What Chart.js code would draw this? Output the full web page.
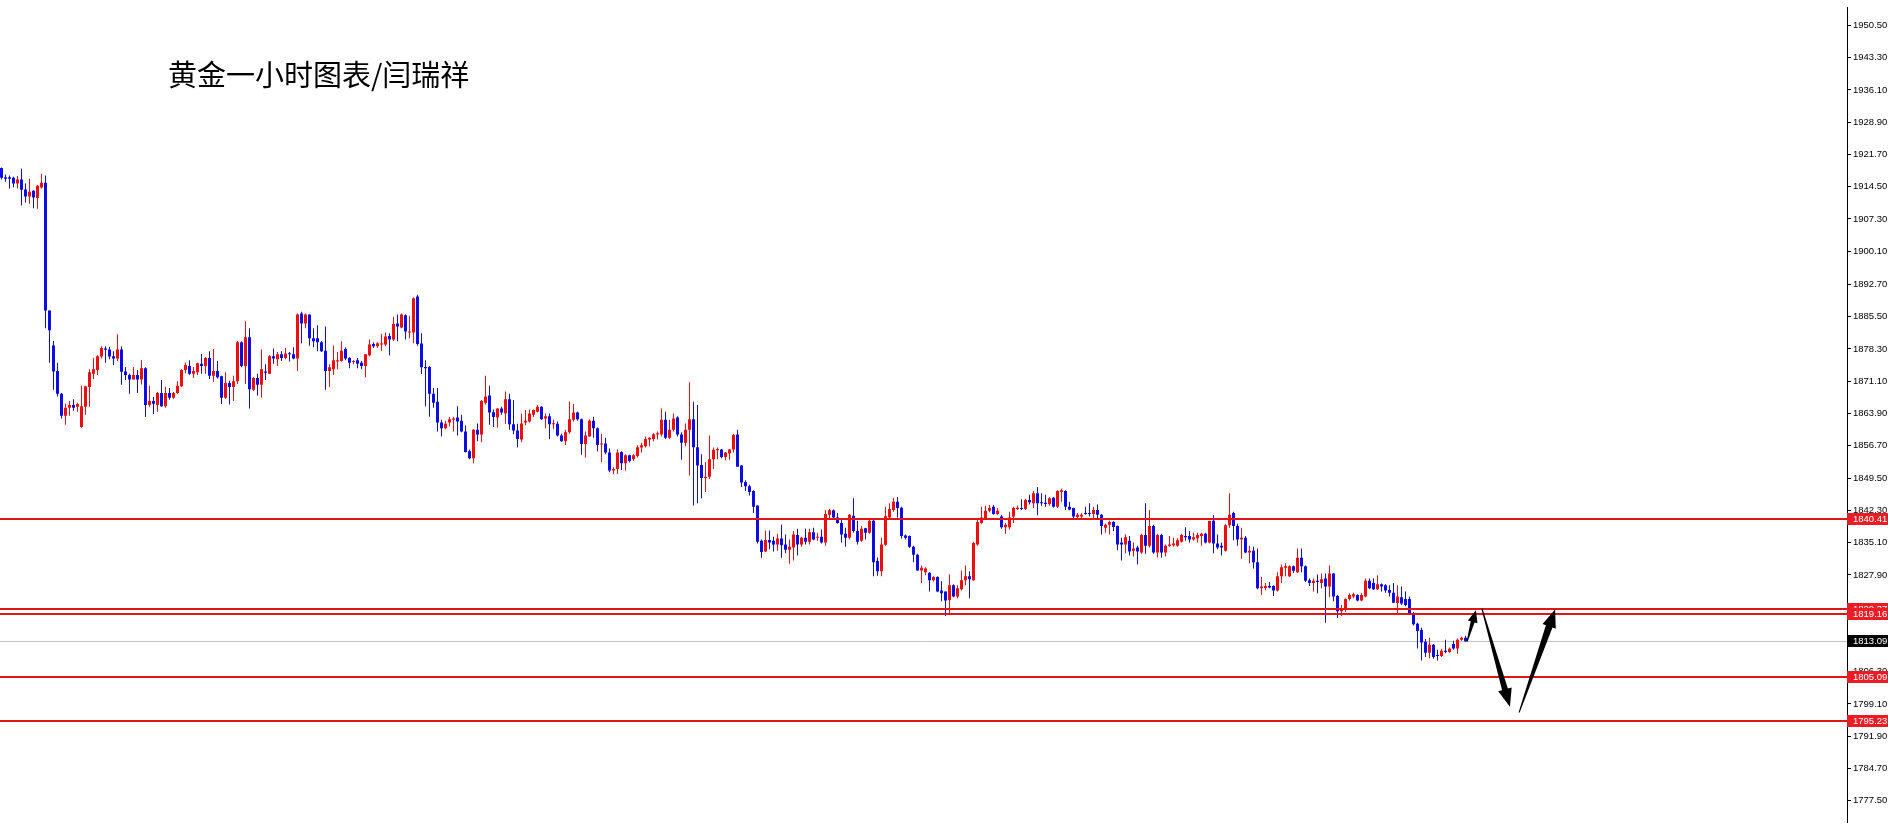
<!DOCTYPE html>
<html>
<head>
<meta charset="utf-8">
<script src="https://cdn.jsdelivr.net/npm/chart.js@4.4.1/dist/chart.umd.min.js"></script>
<style>
  html, body { margin: 0; padding: 0; background: #fff; }
  .wrap { position: relative; width: 1888px; height: 830px; }
  #title {
    position: absolute; left: 168px; top: 59px;
    font: 29px/29px "Noto Sans CJK SC", sans-serif;
    color: #000; white-space: nowrap;
  }
</style>
</head>
<body>
<div class="wrap">
  <canvas id="gold-chart"></canvas>
  <div id="title">黄金一小时图表/闫瑞祥</div>
</div>
<script>
// hourly candles, oldest first
const openVals = [
  1918.7, 1916.6, 1916.6, 1916.5, 1915.2, 1916.1, 1913.9, 1912.3, 1913.6, 1912.0,
  1914.3, 1915.4, 1886.9, 1879.1, 1873.4, 1868.3, 1863.4, 1865.2, 1865.8, 1865.4,
  1860.9, 1865.4, 1869.8, 1872.8, 1873.6, 1876.6, 1878.4, 1878.2, 1876.7, 1876.2,
  1878.2, 1873.3, 1872.5, 1871.5, 1872.5, 1871.5, 1874.0, 1865.8, 1866.7, 1865.8,
  1868.5, 1865.5, 1868.5, 1867.4, 1868.5, 1870.0, 1873.6, 1874.5, 1872.8, 1873.1,
  1875.0, 1874.5, 1876.3, 1872.3, 1873.4, 1872.2, 1867.4, 1870.7, 1869.8, 1871.1,
  1879.8, 1874.5, 1880.9, 1869.2, 1871.8, 1870.3, 1873.3, 1872.8, 1876.7, 1876.0,
  1877.1, 1876.3, 1877.3, 1877.1, 1876.2, 1886.2, 1884.0, 1886.0, 1880.7, 1880.7,
  1879.8, 1877.9, 1873.4, 1873.8, 1875.5, 1875.6, 1878.3, 1876.3, 1875.4, 1875.8,
  1875.2, 1874.5, 1876.9, 1879.4, 1878.9, 1879.3, 1879.3, 1881.2, 1880.4, 1884.0,
  1883.1, 1885.8, 1882.0, 1882.0, 1890.0, 1879.5, 1874.3, 1874.3, 1868.3, 1866.5,
  1861.9, 1860.6, 1861.9, 1862.5, 1863.0, 1862.3, 1859.9, 1855.5, 1853.9, 1860.3,
  1859.2, 1866.3, 1867.9, 1864.2, 1863.0, 1865.0, 1863.9, 1867.1, 1861.5, 1860.1,
  1858.1, 1861.9, 1862.1, 1863.6, 1864.3, 1865.4, 1862.8, 1863.3, 1861.5, 1861.6,
  1859.0, 1857.7, 1859.7, 1862.5, 1864.1, 1862.6, 1857.1, 1858.8, 1862.3, 1860.6,
  1857.0, 1857.2, 1855.2, 1851.2, 1851.5, 1855.3, 1852.8, 1854.6, 1853.7, 1854.4,
  1856.3, 1856.6, 1858.1, 1858.2, 1859.2, 1859.2, 1862.5, 1858.5, 1860.3, 1863.0,
  1859.2, 1857.4, 1860.3, 1862.6, 1856.4, 1852.4, 1849.5, 1849.8, 1853.7, 1855.7,
  1855.9, 1854.2, 1855.0, 1855.9, 1859.2, 1852.3, 1848.6, 1847.7, 1846.6, 1843.4,
  1835.5, 1833.1, 1835.7, 1835.5, 1834.7, 1836.0, 1834.7, 1833.5, 1834.0, 1836.8,
  1834.7, 1836.2, 1835.3, 1837.4, 1836.2, 1836.4, 1835.1, 1841.3, 1842.3, 1840.7,
  1839.5, 1837.1, 1836.2, 1841.1, 1837.7, 1835.5, 1838.3, 1837.3, 1840.0, 1831.0,
  1828.7, 1834.6, 1840.7, 1842.4, 1844.2, 1842.9, 1836.7, 1836.6, 1834.2, 1832.4,
  1828.9, 1828.5, 1828.4, 1826.7, 1827.4, 1824.4, 1824.2, 1822.3, 1825.6, 1823.1,
  1824.7, 1826.7, 1827.6, 1826.7, 1834.7, 1839.5, 1840.6, 1842.2, 1843.1, 1841.5,
  1840.9, 1838.5, 1838.5, 1840.9, 1842.6, 1842.8, 1842.6, 1844.6, 1843.9, 1846.1,
  1844.1, 1844.0, 1843.7, 1845.1, 1843.1, 1846.4, 1846.6, 1843.1, 1842.8, 1840.8,
  1840.9, 1841.7, 1841.7, 1841.5, 1842.4, 1841.3, 1838.4, 1839.1, 1839.7, 1838.8,
  1835.1, 1834.7, 1835.5, 1833.3, 1834.0, 1832.9, 1836.8, 1834.4, 1838.8, 1832.9,
  1836.8, 1832.9, 1834.4, 1834.5, 1834.4, 1835.3, 1836.6, 1836.6, 1835.8, 1836.1,
  1836.6, 1837.1, 1835.1, 1840.0, 1834.9, 1834.4, 1833.3, 1839.0, 1841.7, 1838.8,
  1835.8, 1836.2, 1832.9, 1833.3, 1830.7, 1824.9, 1825.0, 1825.4, 1825.4, 1824.4,
  1827.6, 1829.5, 1827.6, 1829.8, 1828.5, 1831.7, 1829.8, 1826.7, 1826.1, 1826.6,
  1826.1, 1827.1, 1825.3, 1828.2, 1823.2, 1819.8, 1820.5, 1822.5, 1823.1, 1823.4,
  1822.2, 1823.1, 1826.6, 1826.1, 1824.7, 1825.8, 1825.6, 1824.5, 1823.9, 1821.6,
  1822.9, 1822.5, 1822.5, 1819.3, 1817.0, 1815.6, 1813.0, 1810.5, 1812.3, 1809.9,
  1809.8, 1811.0, 1810.7, 1812.5, 1811.5, 1813.4, 1813.9
];
const highVals = [
  1918.8, 1917.2, 1917.0, 1916.7, 1916.9, 1918.5, 1915.2, 1916.3, 1913.7, 1914.9,
  1917.4, 1917.0, 1886.9, 1880.1, 1875.2, 1868.5, 1866.1, 1866.7, 1867.1, 1866.3,
  1870.1, 1870.1, 1873.8, 1876.3, 1876.9, 1878.9, 1878.9, 1878.8, 1877.8, 1881.6,
  1878.9, 1874.3, 1872.8, 1874.3, 1873.6, 1875.8, 1874.2, 1870.1, 1867.6, 1868.7,
  1871.4, 1869.9, 1869.6, 1868.7, 1871.1, 1873.8, 1875.2, 1875.8, 1874.3, 1875.2,
  1877.2, 1876.5, 1877.8, 1878.3, 1875.6, 1872.3, 1873.1, 1871.2, 1872.3, 1880.1,
  1880.0, 1884.5, 1882.9, 1872.0, 1872.8, 1878.2, 1874.9, 1876.9, 1878.4, 1877.6,
  1877.8, 1878.5, 1877.6, 1878.7, 1886.2, 1886.6, 1886.2, 1886.0, 1882.9, 1883.6,
  1880.1, 1883.3, 1874.9, 1879.1, 1877.6, 1880.0, 1878.7, 1876.5, 1875.8, 1876.3,
  1875.6, 1877.2, 1880.4, 1879.8, 1879.8, 1881.7, 1882.0, 1881.8, 1885.5, 1886.0,
  1886.2, 1886.0, 1885.7, 1889.8, 1890.4, 1881.8, 1875.8, 1874.5, 1869.6, 1869.6,
  1862.5, 1862.3, 1863.1, 1863.1, 1865.5, 1863.6, 1861.2, 1855.9, 1860.4, 1861.7,
  1866.9, 1872.3, 1870.1, 1864.8, 1865.1, 1865.4, 1868.8, 1868.3, 1866.9, 1861.6,
  1863.9, 1864.7, 1864.8, 1864.8, 1865.8, 1865.5, 1863.9, 1863.9, 1862.5, 1862.1,
  1859.4, 1860.3, 1866.6, 1866.0, 1864.3, 1862.8, 1859.9, 1862.6, 1863.2, 1860.8,
  1859.4, 1858.5, 1856.1, 1851.9, 1855.9, 1855.5, 1854.8, 1854.7, 1854.8, 1856.8,
  1857.4, 1858.8, 1858.6, 1859.5, 1859.9, 1865.0, 1864.3, 1862.5, 1863.9, 1863.3,
  1859.7, 1861.7, 1870.9, 1866.5, 1865.8, 1854.8, 1853.1, 1859.0, 1856.3, 1856.3,
  1856.0, 1855.3, 1856.0, 1859.4, 1860.3, 1852.4, 1849.0, 1848.0, 1846.8, 1843.4,
  1835.8, 1837.8, 1837.8, 1836.4, 1837.1, 1839.1, 1836.9, 1835.8, 1837.7, 1838.2,
  1836.4, 1838.2, 1838.2, 1838.4, 1837.3, 1838.0, 1842.4, 1842.6, 1842.5, 1841.7,
  1840.6, 1838.4, 1841.5, 1845.0, 1840.0, 1838.8, 1838.4, 1840.2, 1840.2, 1831.8,
  1836.2, 1843.1, 1843.9, 1845.1, 1845.3, 1843.1, 1836.9, 1836.7, 1834.4, 1832.6,
  1830.0, 1829.6, 1828.5, 1827.6, 1827.6, 1826.5, 1824.2, 1828.0, 1825.8, 1825.6,
  1828.9, 1830.0, 1828.7, 1835.3, 1840.6, 1843.1, 1843.3, 1843.5, 1843.5, 1842.8,
  1841.3, 1839.5, 1842.0, 1843.1, 1843.4, 1844.8, 1844.9, 1845.8, 1846.6, 1847.5,
  1846.1, 1845.8, 1845.3, 1845.3, 1846.8, 1847.1, 1846.8, 1844.2, 1842.9, 1841.7,
  1841.7, 1843.1, 1843.9, 1843.1, 1843.6, 1841.5, 1839.3, 1840.0, 1839.9, 1838.9,
  1836.2, 1836.9, 1836.6, 1835.1, 1834.4, 1837.1, 1843.9, 1842.4, 1839.1, 1837.1,
  1837.1, 1834.7, 1836.6, 1836.2, 1836.1, 1837.1, 1838.5, 1837.7, 1837.3, 1837.3,
  1837.3, 1837.3, 1840.0, 1841.2, 1836.9, 1835.1, 1839.3, 1846.1, 1842.0, 1839.3,
  1838.4, 1836.6, 1834.4, 1834.2, 1833.8, 1827.4, 1826.1, 1826.3, 1825.6, 1828.5,
  1830.2, 1830.5, 1830.0, 1830.0, 1833.8, 1833.8, 1830.0, 1827.1, 1827.1, 1828.0,
  1828.2, 1828.2, 1830.0, 1828.3, 1823.4, 1821.2, 1822.7, 1823.8, 1823.9, 1823.6,
  1823.8, 1827.1, 1827.1, 1827.1, 1827.8, 1826.0, 1825.8, 1825.6, 1826.1, 1825.6,
  1825.3, 1824.2, 1823.1, 1819.6, 1817.2, 1816.1, 1813.6, 1813.9, 1812.5, 1811.2,
  1811.4, 1813.4, 1811.7, 1813.2, 1813.7, 1814.1, 1814.3
];
const lowVals = [
  1916.1, 1915.6, 1914.1, 1914.4, 1914.1, 1910.3, 1911.0, 1910.7, 1909.7, 1909.6,
  1914.1, 1882.9, 1875.2, 1869.2, 1867.7, 1862.8, 1861.4, 1863.4, 1864.5, 1864.3,
  1860.7, 1863.6, 1865.4, 1871.6, 1872.5, 1876.2, 1875.2, 1876.0, 1874.7, 1875.6,
  1870.3, 1871.4, 1868.3, 1871.5, 1868.5, 1870.4, 1863.1, 1865.4, 1863.8, 1864.3,
  1865.4, 1865.2, 1867.0, 1867.2, 1868.3, 1869.8, 1872.9, 1872.5, 1871.8, 1872.5,
  1872.8, 1872.8, 1871.6, 1871.0, 1871.7, 1866.0, 1867.2, 1865.9, 1866.7, 1870.5,
  1874.2, 1870.5, 1865.0, 1868.9, 1867.9, 1867.4, 1871.4, 1872.7, 1875.0, 1874.5,
  1875.6, 1876.0, 1875.5, 1876.0, 1873.4, 1879.6, 1882.9, 1879.0, 1878.7, 1877.8,
  1877.6, 1869.2, 1869.8, 1872.5, 1873.8, 1875.5, 1875.8, 1874.0, 1874.9, 1874.0,
  1873.8, 1872.0, 1876.7, 1878.5, 1878.5, 1877.9, 1878.9, 1876.9, 1880.1, 1880.0,
  1882.9, 1880.4, 1880.7, 1879.6, 1879.0, 1872.7, 1865.5, 1863.2, 1865.2, 1859.9,
  1858.8, 1860.4, 1861.0, 1859.9, 1859.0, 1859.7, 1855.2, 1853.7, 1852.8, 1857.7,
  1857.5, 1865.9, 1861.4, 1860.9, 1860.8, 1863.6, 1861.6, 1860.3, 1859.3, 1856.4,
  1857.5, 1861.3, 1861.9, 1863.1, 1864.1, 1862.5, 1860.6, 1858.2, 1860.4, 1858.8,
  1857.6, 1856.9, 1859.4, 1862.1, 1862.3, 1854.7, 1854.1, 1858.7, 1858.5, 1855.5,
  1853.1, 1854.8, 1850.8, 1850.4, 1850.4, 1851.3, 1851.2, 1853.0, 1853.3, 1854.1,
  1855.2, 1856.3, 1856.6, 1857.7, 1858.1, 1858.8, 1858.2, 1858.2, 1859.9, 1858.8,
  1853.6, 1856.6, 1850.1, 1843.4, 1843.9, 1845.0, 1846.4, 1849.3, 1851.5, 1853.7,
  1853.9, 1853.5, 1853.6, 1855.2, 1852.0, 1847.5, 1846.6, 1845.6, 1841.7, 1834.9,
  1831.7, 1833.0, 1833.6, 1833.1, 1833.3, 1831.7, 1832.7, 1830.4, 1831.1, 1832.2,
  1834.2, 1834.7, 1834.7, 1835.6, 1835.5, 1834.9, 1834.4, 1840.4, 1840.2, 1839.3,
  1835.1, 1834.2, 1835.8, 1837.3, 1834.7, 1835.3, 1835.8, 1837.1, 1827.6, 1827.7,
  1827.6, 1834.4, 1840.2, 1842.0, 1840.7, 1836.0, 1835.8, 1833.9, 1830.7, 1828.8,
  1826.1, 1827.8, 1824.2, 1826.4, 1824.0, 1822.0, 1818.7, 1819.4, 1822.9, 1822.7,
  1824.4, 1825.6, 1822.7, 1826.6, 1834.4, 1839.3, 1840.2, 1841.9, 1841.3, 1841.3,
  1838.2, 1837.1, 1838.0, 1839.5, 1842.4, 1842.4, 1842.4, 1843.6, 1842.8, 1841.2,
  1843.3, 1843.1, 1843.3, 1842.9, 1842.8, 1844.2, 1842.4, 1842.3, 1840.6, 1840.6,
  1840.6, 1841.3, 1840.9, 1840.2, 1840.2, 1836.9, 1837.3, 1836.9, 1837.7, 1833.4,
  1831.1, 1832.7, 1832.2, 1832.0, 1830.2, 1832.6, 1832.6, 1834.0, 1832.6, 1831.8,
  1831.7, 1832.0, 1834.2, 1834.2, 1834.2, 1835.1, 1835.5, 1835.1, 1835.5, 1835.1,
  1834.4, 1834.9, 1834.9, 1832.7, 1833.6, 1832.2, 1833.1, 1838.4, 1835.6, 1834.4,
  1831.5, 1832.7, 1830.5, 1829.3, 1824.7, 1823.4, 1824.5, 1824.9, 1823.2, 1824.2,
  1826.1, 1827.6, 1827.4, 1828.3, 1828.3, 1828.5, 1826.3, 1825.4, 1824.2, 1823.8,
  1824.9, 1817.2, 1822.9, 1822.0, 1818.3, 1818.7, 1819.6, 1822.2, 1822.7, 1822.0,
  1822.0, 1822.9, 1824.7, 1824.5, 1824.5, 1824.2, 1823.9, 1823.1, 1821.6, 1819.4,
  1821.2, 1820.9, 1819.0, 1816.6, 1811.5, 1808.8, 1809.6, 1809.3, 1809.2, 1808.8,
  1809.6, 1810.4, 1810.5, 1811.2, 1810.3, 1813.2, 1813.0
];
const closeVals = [
  1916.5, 1916.3, 1916.3, 1915.2, 1916.1, 1913.8, 1912.3, 1913.4, 1912.1, 1914.7,
  1915.4, 1886.9, 1882.5, 1873.3, 1868.3, 1863.4, 1865.2, 1865.8, 1865.2, 1866.0,
  1865.5, 1870.0, 1873.1, 1873.8, 1876.7, 1878.5, 1878.1, 1876.6, 1876.2, 1878.2,
  1873.2, 1872.5, 1871.5, 1872.5, 1871.5, 1874.0, 1865.8, 1866.7, 1866.1, 1868.5,
  1865.5, 1868.5, 1867.4, 1868.5, 1870.1, 1873.6, 1874.7, 1872.8, 1873.4, 1875.1,
  1874.5, 1876.3, 1872.3, 1873.4, 1872.0, 1867.4, 1870.7, 1869.8, 1871.1, 1879.8,
  1874.5, 1880.9, 1869.3, 1871.8, 1870.3, 1873.8, 1873.0, 1876.7, 1876.2, 1877.1,
  1876.3, 1877.3, 1877.1, 1876.2, 1886.0, 1884.0, 1886.0, 1880.7, 1880.0, 1879.8,
  1877.8, 1873.4, 1874.2, 1875.8, 1875.8, 1877.9, 1876.2, 1875.2, 1875.6, 1875.0,
  1874.5, 1877.1, 1879.3, 1878.9, 1879.6, 1879.4, 1881.1, 1880.4, 1883.9, 1883.3,
  1886.0, 1882.2, 1882.2, 1889.6, 1879.4, 1874.2, 1874.0, 1868.3, 1866.3, 1861.9,
  1860.6, 1861.6, 1862.6, 1862.8, 1862.1, 1859.9, 1855.3, 1853.9, 1860.3, 1859.2,
  1866.7, 1867.7, 1864.1, 1863.1, 1865.0, 1864.1, 1867.1, 1861.5, 1860.1, 1858.2,
  1861.7, 1862.3, 1863.9, 1864.7, 1865.4, 1862.6, 1863.3, 1861.5, 1861.7, 1859.0,
  1857.7, 1859.7, 1862.6, 1864.1, 1862.6, 1857.1, 1859.0, 1862.3, 1860.6, 1856.9,
  1857.2, 1855.2, 1851.2, 1851.5, 1855.2, 1852.8, 1854.6, 1853.3, 1854.6, 1856.4,
  1856.8, 1858.2, 1858.5, 1859.3, 1859.5, 1862.5, 1858.5, 1860.3, 1862.8, 1859.2,
  1857.4, 1860.3, 1862.6, 1856.4, 1852.3, 1849.5, 1849.8, 1853.7, 1855.8, 1856.0,
  1854.2, 1855.2, 1855.9, 1859.1, 1852.0, 1848.5, 1847.7, 1846.4, 1843.1, 1835.3,
  1833.0, 1835.7, 1835.1, 1834.7, 1836.0, 1834.5, 1833.5, 1834.2, 1836.9, 1834.7,
  1836.2, 1835.3, 1837.4, 1835.8, 1836.4, 1835.1, 1841.5, 1842.3, 1840.7, 1839.5,
  1836.9, 1836.2, 1841.3, 1837.7, 1835.3, 1838.2, 1837.3, 1840.0, 1830.7, 1828.7,
  1834.7, 1841.0, 1842.6, 1844.2, 1842.8, 1836.6, 1836.2, 1834.2, 1832.4, 1828.9,
  1829.5, 1829.3, 1826.7, 1827.4, 1824.2, 1823.8, 1822.2, 1825.6, 1823.1, 1824.9,
  1826.7, 1827.6, 1826.9, 1835.0, 1839.7, 1840.7, 1842.2, 1842.8, 1841.5, 1842.2,
  1838.5, 1839.1, 1840.7, 1842.8, 1842.9, 1842.6, 1844.6, 1844.1, 1846.1, 1843.9,
  1843.9, 1843.7, 1845.0, 1843.1, 1846.6, 1846.8, 1843.1, 1842.5, 1840.9, 1841.3,
  1841.3, 1841.5, 1841.5, 1842.4, 1841.3, 1838.8, 1839.1, 1839.7, 1838.6, 1834.7,
  1834.7, 1836.3, 1833.1, 1833.8, 1833.1, 1836.8, 1834.4, 1838.8, 1832.9, 1836.8,
  1832.9, 1834.4, 1834.7, 1834.9, 1835.6, 1836.8, 1836.3, 1835.8, 1836.3, 1836.8,
  1837.1, 1835.1, 1839.9, 1834.9, 1834.0, 1834.0, 1839.0, 1841.3, 1838.8, 1835.8,
  1836.2, 1832.9, 1833.3, 1830.7, 1824.9, 1825.3, 1825.4, 1825.1, 1824.4, 1827.6,
  1829.6, 1829.8, 1829.8, 1828.8, 1831.7, 1829.8, 1826.6, 1826.1, 1826.6, 1826.3,
  1826.9, 1825.3, 1828.2, 1823.1, 1819.8, 1820.5, 1822.5, 1823.4, 1823.6, 1822.2,
  1823.4, 1826.6, 1824.9, 1824.7, 1825.8, 1825.3, 1824.4, 1823.9, 1821.7, 1823.1,
  1821.5, 1821.2, 1819.4, 1816.9, 1815.4, 1812.8, 1810.5, 1812.3, 1809.6, 1809.8,
  1811.0, 1810.7, 1811.4, 1811.5, 1813.4, 1813.9, 1813.09
];

// price scale labels on the right
const tickLabels = [
  '1950.50', '1943.30', '1936.10', '1928.90', '1921.70', '1914.50', '1907.30',
  '1900.10', '1892.70', '1885.50', '1878.30', '1871.10', '1863.90', '1856.70',
  '1849.50', '1842.30', '1835.10', '1827.90', '1820.70', '1813.50', '1806.30',
  '1799.10', '1791.90', '1784.70', '1777.50'
];

// horizontal levels drawn on the chart
const levelPrices = [1840.41, 1820.37, 1819.16, 1805.09, 1795.23];
const lastPrice = 1813.09;

// hand drawn arrows: [bar index, price] from -> to
const arrowFrom = [[366.4, 1813.0], [370.1, 1820.4], [379.4, 1797.2]];
const arrowTo = [[368.6, 1820.0], [377.1, 1798.5], [388.4, 1820.2]];

const UP = '#ee0e0e';
const DOWN = '#0c0ce6';
const LEVEL = '#e01616';
const LABEL_BG = '#ec1c24';
const arrowStyle = [
  { headLen: 12, headW: 10, shaftW: 4 },
  { headLen: 18, headW: 14, shaftW: 6 },
  { headLen: 18, headW: 14, shaftW: 7 }
];

const barColors = closeVals.map((c, i) => (c >= openVals[i] ? UP : DOWN));
const wickData = closeVals.map((_, i) => ({ x: i, y: [lowVals[i], highVals[i]] }));
const bodyData = closeVals.map((c, i) => ({ x: i, y: [openVals[i], c] }));

function drawArrow(ctx, x0, y0, x1, y1, s) {
  const dx = x1 - x0, dy = y1 - y0;
  const len = Math.hypot(dx, dy);
  const ux = dx / len, uy = dy / len;
  const nx = -uy, ny = ux;
  const bx = x1 - ux * s.headLen, by = y1 - uy * s.headLen;
  ctx.beginPath();
  ctx.moveTo(x0 + nx * 0.5, y0 + ny * 0.5);
  ctx.lineTo(bx + nx * s.shaftW / 2, by + ny * s.shaftW / 2);
  ctx.lineTo(bx + nx * s.headW / 2, by + ny * s.headW / 2);
  ctx.lineTo(x1, y1);
  ctx.lineTo(bx - nx * s.headW / 2, by - ny * s.headW / 2);
  ctx.lineTo(bx - nx * s.shaftW / 2, by - ny * s.shaftW / 2);
  ctx.lineTo(x0 - nx * 0.5, y0 - ny * 0.5);
  ctx.closePath();
  ctx.fill();
}

function priceTag(ctx, chart, value, bg) {
  const y = Math.round(chart.scales.y.getPixelForValue(value));
  const left = chart.chartArea.right;
  ctx.fillStyle = bg;
  ctx.fillRect(left, y - 6, chart.width - left, 12);
  ctx.fillStyle = '#fff';
  ctx.font = '9.5px "Liberation Sans", Arial, sans-serif';
  ctx.textBaseline = 'middle';
  ctx.textAlign = 'left';
  ctx.fillText(value.toFixed(2), left + 6, y + 0.5);
}

const overlayPlugin = {
  id: 'overlay',
  beforeDatasetsDraw(chart) {
    const { ctx, chartArea } = chart;
    const y = Math.round(chart.scales.y.getPixelForValue(lastPrice)) + 0.5;
    ctx.save();
    ctx.strokeStyle = '#c4c4c4';
    ctx.lineWidth = 1;
    ctx.beginPath();
    ctx.moveTo(chartArea.left, y);
    ctx.lineTo(chartArea.right, y);
    ctx.stroke();
    ctx.restore();
  },
  afterDraw(chart) {
    const { ctx, chartArea } = chart;
    const xs = chart.scales.x, ys = chart.scales.y;
    ctx.save();
    // levels
    ctx.fillStyle = LEVEL;
    levelPrices.forEach(p => {
      const y = Math.round(ys.getPixelForValue(p));
      ctx.fillRect(chartArea.left, y - 1, chartArea.width, 2);
    });
    // arrows
    ctx.fillStyle = '#000';
    arrowFrom.forEach((a, i) => {
      drawArrow(ctx,
        xs.getPixelForValue(a[0]), ys.getPixelForValue(a[1]),
        xs.getPixelForValue(arrowTo[i][0]), ys.getPixelForValue(arrowTo[i][1]),
        arrowStyle[i]);
    });
    // axis tags
    priceTag(ctx, chart, lastPrice, '#000');
    levelPrices.forEach(p => priceTag(ctx, chart, p, LABEL_BG));
    ctx.restore();
  }
};

const ctx = document.getElementById('gold-chart');
new Chart(ctx, {
  type: 'bar',
  data: {
    datasets: [
      {
        label: 'wick',
        data: wickData,
        backgroundColor: barColors,
        barThickness: 1,
        grouped: false,
        inflateAmount: 0,
        borderWidth: 0,
        order: 2
      },
      {
        label: 'body',
        data: bodyData,
        backgroundColor: barColors,
        barThickness: 3,
        minBarLength: 1,
        grouped: false,
        inflateAmount: 0,
        borderWidth: 0,
        order: 1
      }
    ]
  },
  options: {
    responsive: true,
    maintainAspectRatio: false,
    animation: false,
    devicePixelRatio: 1,
    layout: { padding: 0 },
    plugins: {
      legend: { display: false },
      tooltip: { enabled: false },
      title: { display: false }
    },
    scales: {
      x: {
        type: 'linear',
        min: -0.375,
        max: 461.375,
        offset: false,
        display: false
      },
      y: {
        position: 'right',
        min: 1772.7,
        max: 1954.44,
        afterFit: scale => { scale.width = 41; },
        afterBuildTicks: axis => {
          axis.ticks = tickLabels.map(t => ({ value: parseFloat(t) }));
        },
        ticks: {
          autoSkip: false,
          padding: 2,
          color: '#000',
          font: { family: '"Liberation Sans", Arial, sans-serif', size: 9.5 },
          callback: (value, index) => tickLabels[index]
        },
        grid: {
          drawOnChartArea: false,
          drawTicks: true,
          tickLength: 4,
          color: '#000'
        },
        border: { display: true, color: '#000', width: 1 }
      }
    }
  },
  plugins: [overlayPlugin]
});
</script>
</body>
</html>
